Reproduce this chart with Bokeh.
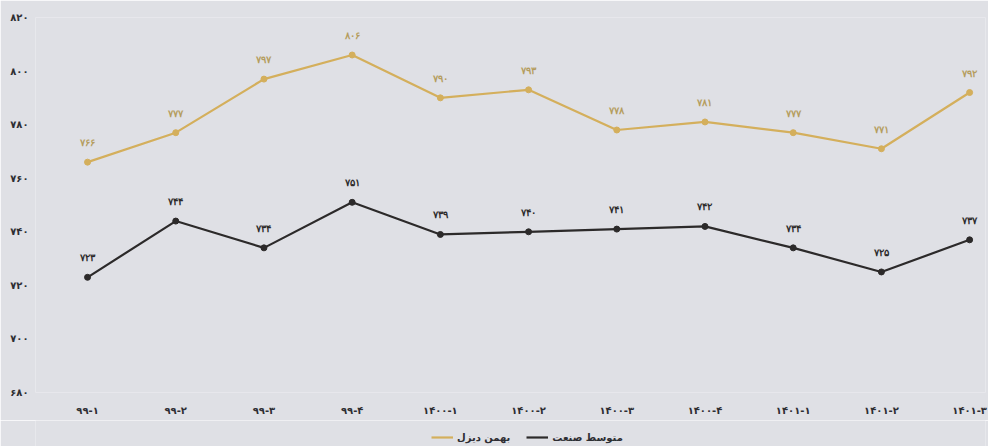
from bokeh.plotting import figure
from bokeh.layouts import column
from bokeh.models import ColumnDataSource, Range1d, Legend, LegendItem, FixedTicker, LabelSet
from bokeh.embed import file_html
from bokeh.resources import INLINE

periods = ["۹۹-۱", "۹۹-۲", "۹۹-۳", "۹۹-۴", "۱۴۰۰-۱", "۱۴۰۰-۲", "۱۴۰۰-۳", "۱۴۰۰-۴", "۱۴۰۱-۱", "۱۴۰۱-۲", "۱۴۰۱-۳"]
bahman = [766, 777, 797, 806, 790, 793, 778, 781, 777, 771, 792]
industry = [723, 744, 734, 751, 739, 740, 741, 742, 734, 725, 737]
y_ticks = [680, 700, 720, 740, 760, 780, 800, 820]
series_names = ["بهمن دیزل", "متوسط صنعت"]

FA = str.maketrans("0123456789", "۰۱۲۳۴۵۶۷۸۹")
def fa(n):
    return str(n).translate(FA)

BG = "#dfe0e5"
GOLD = "#d4af5c"
GOLD_TXT = "#b59d5e"
DARK = "#2c2a2a"
TXT = "#2e2e33"
FONT = "DejaVu Sans"

xs = list(range(len(periods)))
src = ColumnDataSource(dict(
    x=xs, b=bahman, i=industry,
    bl=[fa(v) for v in bahman], il=[fa(v) for v in industry],
))

p = figure(width=988, height=420, output_backend="svg", toolbar_location=None,
           x_range=Range1d(-0.59, 10.18), y_range=Range1d(680, 820),
           background_fill_color=BG, border_fill_color=BG, outline_line_color=None,
           min_border_left=35, min_border_top=17, min_border_right=3, min_border_bottom=28)
p.grid.visible = False

p.line("x", "b", source=src, line_color=GOLD, line_width=2.2)
p.scatter("x", "b", source=src, size=6, color=GOLD)
p.line("x", "i", source=src, line_color=DARK, line_width=2.2)
p.scatter("x", "i", source=src, size=6, color=DARK)

p.add_layout(LabelSet(x="x", y="b", text="bl", source=src, y_offset=14, text_align="center",
                      text_font=FONT, text_font_size="9.5px", text_color=GOLD_TXT, text_font_style="bold"))
p.add_layout(LabelSet(x="x", y="i", source=src, text="il", y_offset=14, text_align="center",
                      text_font=FONT, text_font_size="9.5px", text_color=DARK, text_font_style="bold"))

for ax in (p.xaxis[0], p.yaxis[0]):
    ax.axis_line_color = None
    ax.major_tick_line_color = None
    ax.minor_tick_line_color = None
    ax.major_label_text_font = FONT
    ax.major_label_text_font_size = "10px"
    ax.major_label_text_font_style = "bold"
    ax.major_label_text_color = TXT

p.yaxis[0].ticker = FixedTicker(ticks=y_ticks)
p.yaxis[0].major_label_overrides = {t: fa(t) for t in y_ticks}
p.yaxis[0].major_label_standoff = 1
p.xaxis[0].ticker = FixedTicker(ticks=xs)
p.xaxis[0].major_label_overrides = {i: s for i, s in enumerate(periods)}
p.xaxis[0].major_label_standoff = 6

# legend strip: same series, drawn outside its visible range so only the legend shows
leg = figure(width=988, height=26, output_backend="svg", toolbar_location=None,
             x_axis_type=None, y_axis_type=None,
             x_range=Range1d(-0.59, 10.18), y_range=Range1d(0, 1),
             background_fill_color=BG, border_fill_color=BG, outline_line_color=None,
             min_border_left=0, min_border_right=0, min_border_top=0, min_border_bottom=0)
leg.grid.visible = False
lb = leg.line("x", "b", source=src, line_color=GOLD, line_width=2.2)
li = leg.line("x", "i", source=src, line_color=DARK, line_width=2.2)

legend = Legend(items=[LegendItem(label=series_names[0], renderers=[lb]),
                       LegendItem(label=series_names[1], renderers=[li])],
                orientation="horizontal", location=(396, 3),
                background_fill_alpha=0, border_line_color=None,
                label_text_font=FONT, label_text_font_size="10px", label_text_font_style="bold",
                label_text_color=TXT, glyph_width=22, glyph_height=12, label_height=12,
                padding=0, margin=0, spacing=16, label_standoff=4)
leg.add_layout(legend, "center")

open("out.html", "w").write(file_html(column(p, leg, spacing=0), INLINE))
